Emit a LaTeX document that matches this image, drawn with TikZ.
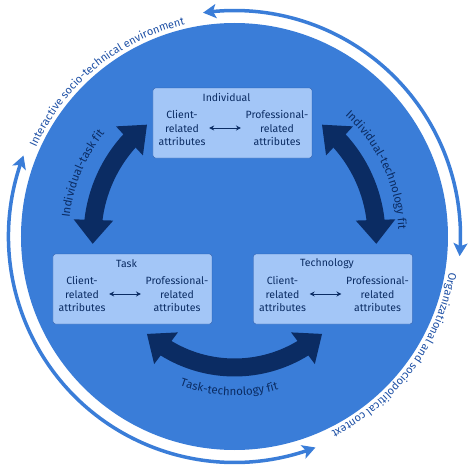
\documentclass[tikz,border=0pt]{standalone}
\usepackage{fontspec}
\setmainfont{Fira Sans}
\usetikzlibrary{arrows.meta}
\usetikzlibrary{positioning}
\usetikzlibrary{bending}
\usetikzlibrary{decorations.text}
\definecolor{diskblue}{RGB}{58,125,216}
\definecolor{boxfill}{RGB}{163,198,247}
\definecolor{boxline}{RGB}{40,88,168}
\definecolor{fitdark}{RGB}{11,44,99}
\definecolor{ringtext}{RGB}{30,80,165}
\newcommand\boxfont{\fontsize{10.5}{13.5}\selectfont}
\newcommand\ringfont{\fontsize{11}{12}\selectfont\color{ringtext}}
\newcommand\fitfont{\fontsize{11.5}{12}\selectfont\color{fitdark}}
\tikzset{
  attrbox/.style={rectangle, rounded corners=2.5pt, draw=boxline, fill=boxfill,
    minimum width=159pt, minimum height=70pt, inner sep=0pt},
  attr/.style={align=center, inner sep=0pt, font=\boxfont, text=fitdark},
  boxtitle/.style={inner sep=0pt, font=\boxfont, text=fitdark},
  pair/.style={{Stealth[length=5pt,width=5pt]}-{Stealth[length=5pt,width=5pt]}, draw=fitdark, line width=0.8pt},
}
\begin{document}
\begin{tikzpicture}[x=1pt, y=1pt,
    fitarrow/.style={line width=18pt, draw=fitdark,
      {Triangle[length=24pt,width=38pt]}-{Triangle[length=24pt,width=38pt]}},
    ringarrow/.style={line width=3.5pt, draw=diskblue,
      {Stealth[length=13pt,width=14pt,inset=3pt]}-{Stealth[length=13pt,width=14pt,inset=3pt]}}]
  \useasboundingbox (-234.5,-235.5) rectangle (236.5,236.5);

  % outer ring: two double headed arcs
  \draw[ringarrow] (-5:226) arc (-5:98:226);
  \draw[ringarrow] (159:226) arc (159:291:226);

  % the blue disk
  \fill[diskblue] (0,0) circle (213.5);

  % texts in the gaps of the ring
  \path[decorate, decoration={text along path, text align=center,
    text={|\ringfont|Interactive socio-technical environment}}] (160:217.5) arc (160:99:217.5);
  \path[decorate, decoration={text along path, text align=center,
    text={|\ringfont|Organizational and sociopolitical context}}] (-6:217.5) arc (-6:-67:217.5);

  % the three fit arrows
  \draw[fitarrow] (128:142) arc (128:183:142); % individual - task
  \draw[fitarrow] (52:142) arc (52:-3:142); % individual - technology
  \draw[fitarrow] (-132:131) arc (-132:-48:131); % task - technology

  % labels of the fit arrows
  \path[decorate, decoration={text along path, text align=center,
    text={|\fitfont|Individual-task fit}}] (181:166) arc (181:134:166);
  \path[decorate, decoration={text along path, text align=center,
    text={|\fitfont|Individual-technology fit}}] (51:164) arc (51:-1:164);
  \path[decorate, decoration={text along path, text align=center,
    text={|\fitfont|Task-technology fit}}] (-117:159) arc (-117:-67:159);

  % boxes with their attributes
  \foreach \bx/\ttl/\px/\py in {indiv/Individual/-2/113.5, task/Task/-102/-52.5, tech/Technology/98.5/-52.5}
  {
    \node[attrbox] (\bx) at (\px,\py) {};
    \node[boxtitle] (\bx-t) at ([xshift=-6pt,yshift=-10pt]\bx.north) {\ttl};
    \node[attr] (\bx-c) at ([xshift=-50.5pt,yshift=-5pt]\bx.center) {Client-\\related\\attributes};
    \node[attr] (\bx-p) at ([xshift=44.5pt,yshift=-5pt]\bx.center) {Professional-\\related\\attributes};
    \draw[pair] ([xshift=3.5pt]\bx-c.east) -- ([xshift=-4.5pt]\bx-p.west);
  }
\end{tikzpicture}
\end{document}
